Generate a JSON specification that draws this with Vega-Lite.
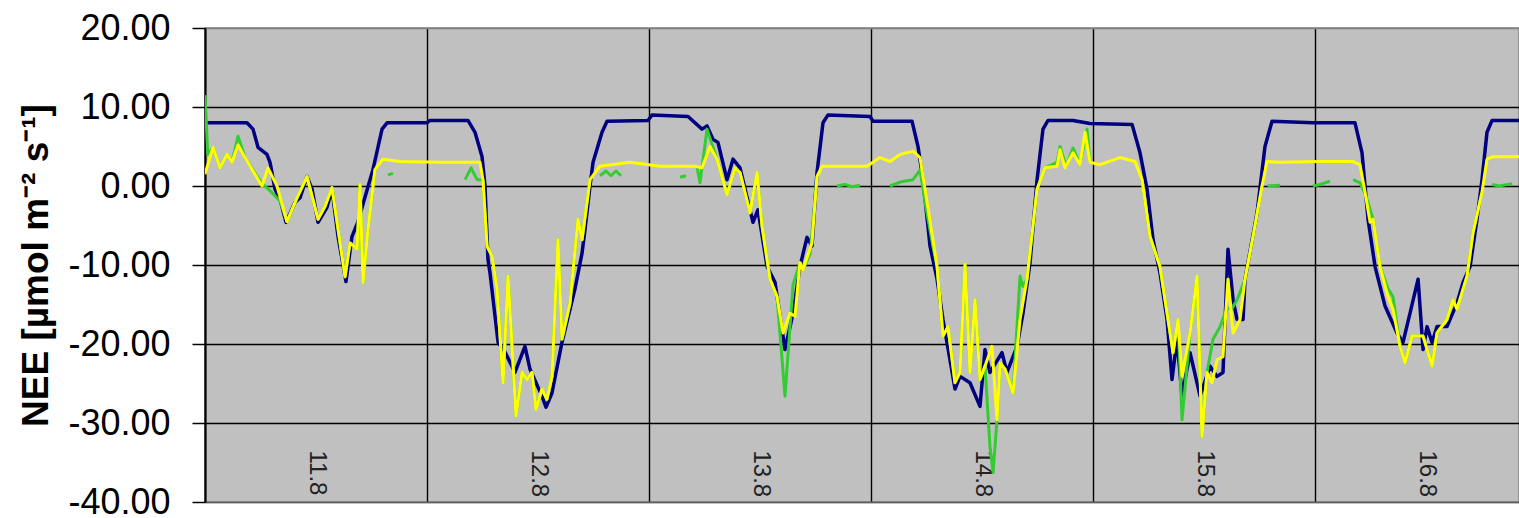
{
  "$schema": "https://vega.github.io/schema/vega-lite/v6.json",
  "width": 1314,
  "height": 474,
  "autosize": {"type": "none"},
  "padding": {"left": 205, "top": 28, "right": 0, "bottom": 16},
  "background": "white",
  "config": {
    "view": {"fill": "#c0c0c0", "stroke": "#808080", "strokeWidth": 1.5},
    "font": "Liberation Sans"
  },
  "datasets": {
    "navy": [
      {"t":0,"v":8.0},{"t":4.54,"v":8.0},{"t":5.19,"v":7.2},{"t":5.73,"v":4.9},{"t":6.70,"v":4.0},{"t":7.03,"v":3.0},{"t":7.57,"v":-0.4},{"t":8.11,"v":-1.7},{"t":8.76,"v":-4.6},{"t":9.73,"v":-2.1},{"t":10.27,"v":-1.5},{"t":11.03,"v":1.2},{"t":11.57,"v":-0.4},{"t":12.22,"v":-4.6},{"t":13.19,"v":-2.7},{"t":13.73,"v":-0.4},{"t":14.38,"v":-6.4},{"t":15.24,"v":-12.1},{"t":15.89,"v":-6.4},{"t":16.54,"v":-4.5},{"t":18.16,"v":2.1},{"t":19.14,"v":7.2},{"t":19.68,"v":8.0},{"t":24.0,"v":8.0},{"t":24.32,"v":8.3},
      {"t":28.43,"v":8.3},{"t":29.19,"v":6.8},{"t":29.95,"v":3.7},{"t":30.27,"v":0},{"t":30.59,"v":-9.3},{"t":30.81,"v":-11},{"t":31.68,"v":-19.8},{"t":32.43,"v":-21},{"t":33.51,"v":-23.6},{"t":34.59,"v":-20.3},{"t":35.14,"v":-23.2},{"t":36.43,"v":-26.6},{"t":36.86,"v":-28.0},{"t":37.51,"v":-26.2},{"t":38.59,"v":-19.8},{"t":40.0,"v":-13},{"t":40.76,"v":-8.5},{"t":41.08,"v":-5.5},{"t":41.62,"v":0},{"t":41.95,"v":3.0},{"t":42.92,"v":6.8},{"t":43.46,"v":8.2},{"t":47.89,"v":8.3},{"t":48.32,"v":9.0},
      {"t":52.22,"v":8.8},{"t":53.73,"v":7.2},{"t":54.27,"v":7.6},{"t":54.92,"v":5.9},{"t":55.46,"v":5.5},{"t":56.43,"v":0.8},{"t":57.08,"v":3.4},{"t":57.84,"v":2.3},{"t":59.24,"v":-4.6},{"t":59.78,"v":-3.0},{"t":60.76,"v":-10.2},{"t":61.62,"v":-12.2},{"t":62.70,"v":-20.7},{"t":63.57,"v":-16.1},{"t":64.32,"v":-10.2},{"t":65.08,"v":-6.5},{"t":65.62,"v":-7.6},{"t":66.16,"v":1.7},{"t":66.81,"v":8.0},{"t":67.35,"v":9.0},{"t":71.89,"v":8.8},{"t":72.22,"v":8.2},
      {"t":76.43,"v":8.2},{"t":77.08,"v":5.0},{"t":77.62,"v":0.8},{"t":78.38,"v":-7.6},{"t":79.14,"v":-11.8},{"t":79.78,"v":-16.9},{"t":81.08,"v":-25.7},{"t":81.62,"v":-24.1},{"t":82.70,"v":-24.9},{"t":83.78,"v":-27.9},{"t":84.32,"v":-20.7},{"t":84.86,"v":-23.6},{"t":86.16,"v":-21.1},{"t":86.70,"v":-23.6},{"t":87.78,"v":-20.3},{"t":88.43,"v":-16.1},{"t":89.19,"v":-9.7},{"t":89.95,"v":0.8},{"t":90.59,"v":7.2},{"t":91.14,"v":8.3},{"t":93.84,"v":8.3},{"t":95.68,"v":7.9},
      {"t":100.22,"v":7.8},{"t":101.08,"v":4.2},{"t":101.84,"v":-0.4},{"t":102.49,"v":-6.8},{"t":103.24,"v":-11},{"t":104.0,"v":-16.9},{"t":104.54,"v":-24.5},{"t":105.08,"v":-19.4},{"t":105.62,"v":-26.6},{"t":106.49,"v":-21.1},{"t":107.57,"v":-26.6},{"t":108.65,"v":-22.8},{"t":109.41,"v":-24.1},{"t":110.05,"v":-23.6},{"t":110.59,"v":-8.0},{"t":111.14,"v":-14.4},{"t":111.57,"v":-16.9},{"t":112.22,"v":-16.9},{"t":112.43,"v":-11.8},{"t":113.73,"v":-3.4},{"t":114.59,"v":5.0},{"t":115.35,"v":8.2},{"t":119.78,"v":8.0},
      {"t":124.32,"v":8.0},{"t":125.08,"v":4.2},{"t":125.73,"v":-4.2},{"t":126.49,"v":-10.2},{"t":127.57,"v":-15.2},{"t":128.86,"v":-18.6},{"t":129.51,"v":-19.8},{"t":130.27,"v":-16.1},{"t":131.14,"v":-11.8},{"t":131.68,"v":-20.7},{"t":132.11,"v":-17.8},{"t":132.65,"v":-19.8},{"t":133.19,"v":-17.8},{"t":134.27,"v":-17.8},{"t":135.35,"v":-14.8},{"t":136.0,"v":-12.2},{"t":136.76,"v":-10.2},{"t":137.51,"v":-4.2},{"t":138.05,"v":0.8},{"t":138.59,"v":6.8},{"t":139.14,"v":8.3},{"t":142.05,"v":8.3}
    ],
    "green": [
      {"g":1,"t":0,"v":11.5},{"g":1,"t":0.3,"v":4.0},{"g":1,"t":0.86,"v":4.9},{"g":1,"t":1.62,"v":2.3},{"g":1,"t":2.38,"v":4.0},{"g":1,"t":2.92,"v":3.0},{"g":1,"t":3.57,"v":6.3},{"g":1,"t":4.32,"v":3.6},{"g":1,"t":6.16,"v":0.3},{"g":1,"t":7.03,"v":-0.6},{"g":1,"t":8.11,"v":-1.9},{"g":1,"t":8.86,"v":-4.5},{"g":1,"t":9.95,"v":-1.5},{"g":1,"t":11.03,"v":1.2},{"g":1,"t":12.22,"v":-4.2},{"g":1,"t":12.97,"v":-2.6},{"g":1,"t":13.73,"v":-0.2},{"g":1,"t":15.14,"v":-11.5},{"g":1,"t":15.68,"v":-7.2},{"g":1,"t":16.43,"v":-8.0},{"g":1,"t":16.76,"v":0.2},{"g":1,"t":17.08,"v":-12.2},{"g":1,"t":17.62,"v":-5.5},{"g":1,"t":18.38,"v":2.1},
      {"g":2,"t":19.78,"v":1.4},{"g":2,"t":20.32,"v":1.6},
      {"g":3,"t":28.11,"v":0.8},{"g":3,"t":28.76,"v":2.3},{"g":3,"t":29.41,"v":0.8},{"g":3,"t":30.05,"v":0.8},{"g":3,"t":30.49,"v":-7.6},{"g":3,"t":31.03,"v":-8.9},{"g":3,"t":31.57,"v":-13.1},{"g":3,"t":32.22,"v":-24.9},{"g":3,"t":32.76,"v":-11.4},{"g":3,"t":33.62,"v":-29.1},{"g":3,"t":34.27,"v":-23.6},{"g":3,"t":34.81,"v":-24.5},{"g":3,"t":35.35,"v":-23.6},{"g":3,"t":35.78,"v":-28.3},{"g":3,"t":36.43,"v":-25.7},{"g":3,"t":36.97,"v":-27.0},{"g":3,"t":37.51,"v":-24.1},{"g":3,"t":38.16,"v":-6.8},{"g":3,"t":38.59,"v":-19.4},{"g":3,"t":39.46,"v":-14.8},{"g":3,"t":40.32,"v":-4.2},{"g":3,"t":40.76,"v":-6.8},{"g":3,"t":41.62,"v":0.8},
      {"g":4,"t":42.70,"v":1.3},{"g":4,"t":43.35,"v":1.9},{"g":4,"t":43.89,"v":1.3},{"g":4,"t":44.43,"v":1.9},{"g":4,"t":44.97,"v":1.3},
      {"g":5,"t":51.35,"v":1.1},{"g":5,"t":52.0,"v":1.3},
      {"g":6,"t":53.19,"v":2.4},{"g":6,"t":53.51,"v":0.4},{"g":6,"t":54.27,"v":7.2},{"g":6,"t":55.35,"v":3.4},{"g":6,"t":56.43,"v":-1.1},{"g":6,"t":57.30,"v":2.3},{"g":6,"t":57.84,"v":1.7},{"g":6,"t":58.92,"v":-3.4},{"g":6,"t":59.68,"v":1.7},{"g":6,"t":60.22,"v":-5.1},{"g":6,"t":61.08,"v":-11.8},{"g":6,"t":61.84,"v":-14.0},{"g":6,"t":62.70,"v":-26.6},{"g":6,"t":63.57,"v":-12.5},{"g":6,"t":64.32,"v":-9.7},{"g":6,"t":64.65,"v":-10.6},{"g":6,"t":65.41,"v":-8.6},{"g":6,"t":66.16,"v":1.2},
      {"g":7,"t":68.32,"v":0},{"g":7,"t":69.19,"v":0.2},{"g":7,"t":69.95,"v":-0.1},{"g":7,"t":70.81,"v":0.1},
      {"g":8,"t":74.05,"v":0},{"g":8,"t":75.14,"v":0.5},{"g":8,"t":76.54,"v":0.8},{"g":8,"t":77.30,"v":2.0},{"g":8,"t":77.84,"v":-2.0},{"g":8,"t":78.59,"v":-7.0},{"g":8,"t":79.14,"v":-10.2},{"g":8,"t":79.78,"v":-19.0},{"g":8,"t":80.32,"v":-17.8},{"g":8,"t":81.08,"v":-24.9},{"g":8,"t":81.62,"v":-23.6},{"g":8,"t":82.16,"v":-9.9},{"g":8,"t":82.70,"v":-23.6},{"g":8,"t":83.24,"v":-14.4},{"g":8,"t":83.78,"v":-24.5},{"g":8,"t":84.32,"v":-22.8},{"g":8,"t":84.86,"v":-33.0},{"g":8,"t":85.19,"v":-36.3},{"g":8,"t":85.62,"v":-29.6},{"g":8,"t":85.95,"v":-22.4},{"g":8,"t":86.49,"v":-23.2},{"g":8,"t":87.35,"v":-26.2},{"g":8,"t":88.11,"v":-11.4},{"g":8,"t":88.43,"v":-12.7},{"g":8,"t":88.86,"v":-11.8},{"g":8,"t":89.95,"v":-0.4},{"g":8,"t":90.81,"v":2.3},{"g":8,"t":92.11,"v":3.0},{"g":8,"t":92.43,"v":5.0},{"g":8,"t":93.08,"v":2.5},{"g":8,"t":93.84,"v":4.8},{"g":8,"t":94.59,"v":2.7},{"g":8,"t":95.35,"v":7.2},{"g":8,"t":95.68,"v":3.0},
      {"g":9,"t":101.30,"v":0.8},{"g":9,"t":102.16,"v":-6.4},{"g":9,"t":103.24,"v":-10.2},{"g":9,"t":104.11,"v":-16.9},{"g":9,"t":104.65,"v":-21.1},{"g":9,"t":105.19,"v":-16.9},{"g":9,"t":105.62,"v":-29.6},{"g":9,"t":106.49,"v":-18.6},{"g":9,"t":107.24,"v":-11.4},{"g":9,"t":107.78,"v":-31.7},{"g":9,"t":108.32,"v":-23.6},{"g":9,"t":108.97,"v":-19.4},{"g":9,"t":109.73,"v":-17.8},{"g":9,"t":110.49,"v":-15.5},{"g":9,"t":111.03,"v":-15.5},{"g":9,"t":111.57,"v":-14.4},{"g":9,"t":112.43,"v":-11.8},{"g":9,"t":113.30,"v":-6.4},{"g":9,"t":114.27,"v":0},
      {"g":10,"t":114.86,"v":0},{"g":10,"t":116.22,"v":0.1},
      {"g":11,"t":119.78,"v":0},{"g":11,"t":120.54,"v":0.2},{"g":11,"t":121.62,"v":0.6},
      {"g":12,"t":124.11,"v":0.8},{"g":12,"t":124.86,"v":0.4},{"g":12,"t":125.41,"v":-1.0},{"g":12,"t":125.73,"v":-2.1},{"g":12,"t":126.27,"v":-4.2},{"g":12,"t":127.03,"v":-10.2},{"g":12,"t":127.89,"v":-13.0},{"g":12,"t":128.43,"v":-14.0},{"g":12,"t":129.19,"v":-20.3},{"g":12,"t":129.73,"v":-22.4},{"g":12,"t":130.49,"v":-19.0},{"g":12,"t":131.68,"v":-19.0},{"g":12,"t":132.65,"v":-22.8},{"g":12,"t":133.19,"v":-18.6},{"g":12,"t":134.27,"v":-16.9},{"g":12,"t":134.92,"v":-14.4},{"g":12,"t":135.35,"v":-15.6},{"g":12,"t":136.43,"v":-11.4},{"g":12,"t":137.08,"v":-5.9},{"g":12,"t":138.05,"v":-0.8},
      {"g":13,"t":139.14,"v":0.2},{"g":13,"t":139.89,"v":0},{"g":13,"t":141.3,"v":0.3}
    ],
    "yellow": [
      {"t":0,"v":1.5},{"t":0.86,"v":4.9},{"t":1.62,"v":2.3},{"t":2.38,"v":4.0},{"t":2.92,"v":3.0},{"t":3.57,"v":5.2},{"t":4.32,"v":3.6},{"t":6.16,"v":0},{"t":6.81,"v":2.3},{"t":7.78,"v":0},{"t":8.86,"v":-4.5},{"t":9.95,"v":-1.5},{"t":11.03,"v":1.2},{"t":12.22,"v":-4.2},{"t":12.97,"v":-2.6},{"t":13.73,"v":-0.2},{"t":15.14,"v":-11.5},{"t":15.68,"v":-7.2},{"t":16.43,"v":-8.0},{"t":16.76,"v":0.2},{"t":17.08,"v":-12.2},{"t":17.62,"v":-5.5},{"t":18.38,"v":2.1},{"t":19.24,"v":3.4},{"t":21.08,"v":3.1},{"t":25.41,"v":3.0},
      {"t":29.73,"v":3.0},{"t":30.05,"v":0.8},{"t":30.49,"v":-7.6},{"t":31.03,"v":-8.9},{"t":31.57,"v":-13.1},{"t":32.22,"v":-24.9},{"t":32.76,"v":-11.4},{"t":33.62,"v":-29.1},{"t":34.27,"v":-23.6},{"t":34.81,"v":-24.5},{"t":35.35,"v":-23.6},{"t":35.78,"v":-28.3},{"t":36.43,"v":-25.7},{"t":36.97,"v":-27.0},{"t":37.51,"v":-24.1},{"t":38.16,"v":-6.8},{"t":38.59,"v":-19.4},{"t":39.46,"v":-14.8},{"t":40.32,"v":-4.2},{"t":40.76,"v":-6.8},{"t":41.62,"v":0.8},{"t":42.70,"v":2.5},{"t":45.95,"v":3.0},{"t":49.19,"v":2.5},
      {"t":52.97,"v":2.5},{"t":53.73,"v":2.3},{"t":54.59,"v":5.0},{"t":55.35,"v":3.4},{"t":56.43,"v":-1.1},{"t":57.30,"v":2.3},{"t":57.84,"v":1.7},{"t":58.92,"v":-3.4},{"t":59.68,"v":1.7},{"t":60.22,"v":-5.1},{"t":61.08,"v":-11.8},{"t":61.84,"v":-14.0},{"t":62.49,"v":-18.6},{"t":63.24,"v":-16.1},{"t":63.78,"v":-16.5},{"t":64.32,"v":-9.7},{"t":64.65,"v":-10.6},{"t":65.62,"v":-7.2},{"t":66.16,"v":1.2},{"t":66.70,"v":2.5},{"t":71.57,"v":2.5},{"t":72.97,"v":3.6},{"t":74.05,"v":3.1},{"t":75.14,"v":4.0},{"t":76.54,"v":4.4},{"t":77.30,"v":3.6},
      {"t":77.84,"v":-0.4},{"t":79.14,"v":-10.2},{"t":79.78,"v":-19.0},{"t":80.32,"v":-17.8},{"t":81.08,"v":-24.9},{"t":81.62,"v":-23.6},{"t":82.16,"v":-9.9},{"t":82.70,"v":-23.6},{"t":83.24,"v":-14.4},{"t":83.78,"v":-24.5},{"t":84.32,"v":-22.8},{"t":85.08,"v":-20.3},{"t":85.62,"v":-29.6},{"t":85.95,"v":-22.4},{"t":86.49,"v":-23.2},{"t":87.35,"v":-26.2},{"t":88.11,"v":-16.9},{"t":88.86,"v":-11.8},{"t":89.95,"v":-0.4},{"t":90.81,"v":2.3},{"t":92.11,"v":2.5},{"t":92.43,"v":4.6},{"t":92.97,"v":2.3},{"t":93.84,"v":4.2},{"t":94.59,"v":2.7},{"t":95.14,"v":6.8},{"t":95.68,"v":3.0},
      {"t":96.76,"v":2.7},{"t":98.92,"v":3.6},{"t":100.54,"v":3.1},{"t":101.30,"v":0.8},{"t":102.16,"v":-6.4},{"t":103.24,"v":-10.2},{"t":104.11,"v":-16.9},{"t":104.65,"v":-21.1},{"t":105.19,"v":-16.9},{"t":105.62,"v":-24.1},{"t":106.49,"v":-18.6},{"t":107.24,"v":-11.4},{"t":107.78,"v":-31.7},{"t":108.32,"v":-23.6},{"t":108.86,"v":-24.9},{"t":109.41,"v":-22.0},{"t":110.05,"v":-21.6},{"t":110.59,"v":-11.8},{"t":111.14,"v":-18.6},{"t":111.89,"v":-16.9},{"t":112.43,"v":-11.8},{"t":113.30,"v":-6.4},{"t":114.27,"v":0},{"t":114.81,"v":3.1},{"t":116.22,"v":3.0},{"t":120.54,"v":3.1},
      {"t":124.11,"v":3.1},{"t":124.86,"v":2.7},{"t":125.41,"v":-0.8},{"t":125.95,"v":-4.6},{"t":126.27,"v":-4.2},{"t":127.03,"v":-10.2},{"t":127.89,"v":-14.0},{"t":128.43,"v":-15.6},{"t":129.19,"v":-20.3},{"t":129.73,"v":-22.4},{"t":130.49,"v":-19.0},{"t":131.68,"v":-19.0},{"t":132.65,"v":-22.8},{"t":133.19,"v":-18.6},{"t":134.27,"v":-16.9},{"t":134.92,"v":-14.4},{"t":135.35,"v":-15.6},{"t":136.43,"v":-11.4},{"t":137.08,"v":-5.9},{"t":138.05,"v":-0.8},{"t":138.59,"v":3.4},{"t":139.24,"v":3.7},{"t":142.05,"v":3.7}
    ]
  },
  "encoding": {
    "x": {
      "field": "t", "type": "quantitative",
      "scale": {"domain": [0, 142.05], "nice": false, "zero": false},
      "axis": {
        "title": null,
        "values": [0, 24, 48, 72, 96, 120],
        "labelExpr": "(11 + datum.value / 24) + '.8'",
        "labelAngle": 90,
        "labelOffset": 111,
        "labelPadding": -52,
        "labelFont": "Liberation Sans",
        "labelFontSize": 24,
        "labelColor": "#222222",
        "labelBound": false,
        "labelOverlap": false,
        "labelFlush": false,
        "ticks": false,
        "domainColor": "#606060",
        "domainWidth": 1.5,
        "grid": true,
        "gridColor": "black",
        "gridWidth": 1.4,
        "gridOpacity": 1
      }
    },
    "y": {
      "field": "v", "type": "quantitative",
      "scale": {"domain": [-40, 20], "nice": false, "zero": false},
      "axis": {
        "title": "NEE [µmol m⁻² s⁻¹]",
        "titleFont": "Liberation Sans",
        "titleFontSize": 37,
        "titleFontWeight": "bold",
        "titleColor": "black",
        "titlePadding": 12,
        "values": [-40, -30, -20, -10, 0, 10, 20],
        "labelExpr": "replace(format(datum.value, '.2f'), '\u2212', '-')",
        "labelFont": "Liberation Sans",
        "labelFontSize": 36,
        "labelColor": "black",
        "labelPadding": 22,
        "labelBound": false,
        "labelOverlap": false,
        "labelFlush": false,
        "tickSize": 13,
        "tickColor": "black",
        "tickWidth": 1.5,
        "domainColor": "black",
        "domainWidth": 2,
        "grid": true,
        "gridColor": {"condition": {"test": "datum.value === 20 || datum.value === -40", "value": "#808080"}, "value": "black"},
        "gridWidth": 1.4,
        "gridOpacity": 1
      }
    }
  },
  "layer": [
    {"data": {"name": "navy"}, "mark": {"type": "line", "color": "#000080", "strokeWidth": 3.5, "strokeJoin": "round", "clip": true}},
    {"data": {"name": "green"}, "mark": {"type": "line", "color": "#33cc33", "strokeWidth": 3, "strokeJoin": "round", "clip": true}, "encoding": {"detail": {"field": "g", "type": "nominal"}}},
    {"data": {"name": "yellow"}, "mark": {"type": "line", "color": "#ffff00", "strokeWidth": 3, "strokeJoin": "round", "clip": true}}
  ]
}
